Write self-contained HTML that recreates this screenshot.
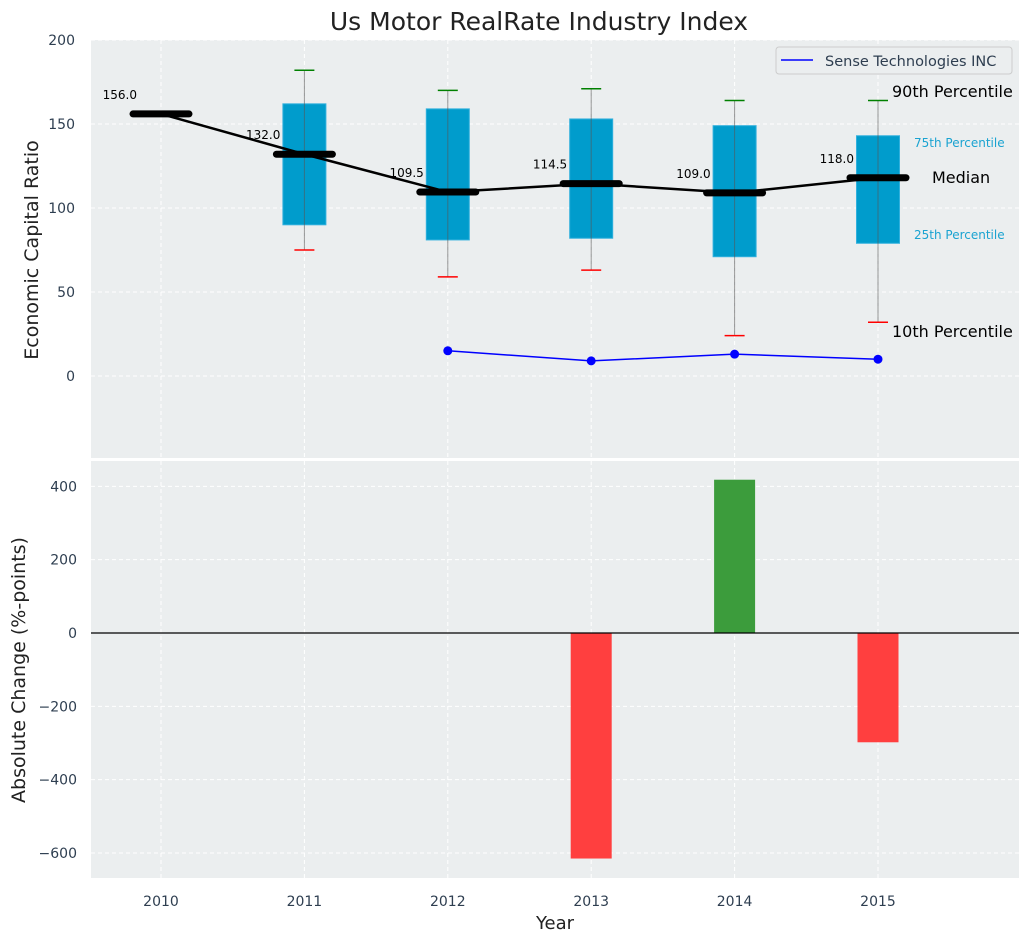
<!DOCTYPE html>
<html><head><meta charset="utf-8"><style>
body{margin:0;background:#fff;font-family:"Liberation Sans","DejaVu Sans",sans-serif}
svg text{font-family:"DejaVu Sans","Liberation Sans",sans-serif}
</style></head><body>
<svg id="c" width="1029" height="942" xmlns="http://www.w3.org/2000/svg"></svg>
<script>
const years=[2010,2011,2012,2013,2014,2015];
const medians=[156,132,109.5,114.5,109,118];
const q1=[null,90,81,82,71,79];
const q3=[null,162,159,153,149,143];
const p10=[null,75,59,63,24,32];
const p90=[null,182,170,171,164,164];
const compYears=[2012,2013,2014,2015];
const compVals=[15,9,13,10];
const changeYears=[2013,2014,2015];
const changeVals=[-615,418,-298];
const topTicks=[0,50,100,150,200];
const botTicks=[-600,-400,-200,0,200,400];

const NS="http://www.w3.org/2000/svg";
const svg=document.getElementById('c');
function el(t,a,p){const e=document.createElementNS(NS,t);for(const k in a)e.setAttribute(k,a[k]);(p||svg).appendChild(e);return e;}
function tx(x,y,s,a){const e=el('text',Object.assign({x:x,y:y},a));e.textContent=s;return e;}
const X=v=>161+(v-2010)*143.4;
const Yt=v=>376-v*1.68;
const Yb=v=>633-v*0.3667;
const L=91,R=1019;

let g=el('rect',{x:L,y:40,width:R-L,height:418,fill:'#ebeeef'});

let g2=el('rect',{x:L,y:461,width:R-L,height:417,fill:'#ebeeef'});

years.forEach(y=>{el('line',{x1:X(y),x2:X(y),y1:40,y2:458,stroke:'#fff','stroke-dasharray':'4,3'});el('line',{x1:X(y),x2:X(y),y1:461,y2:878,stroke:'#fff','stroke-dasharray':'4,3'});
 const t=tx(X(y),906,String(y),{'text-anchor':'middle','font-size':14,fill:'#2e3e50'});
 });
topTicks.forEach(v=>{el('line',{x1:L,x2:R,y1:Yt(v),y2:Yt(v),stroke:'#fff','stroke-dasharray':'4,3'});
 const t=tx(75,Yt(v)+5,String(v),{'text-anchor':'end','font-size':14,fill:'#2e3e50'});
 });
botTicks.forEach(v=>{el('line',{x1:L,x2:R,y1:Yb(v),y2:Yb(v),stroke:'#fff','stroke-dasharray':'4,3'});
 const t=tx(77,Yb(v)+5,(v<0?'\u2212'+(-v):String(v)),{'text-anchor':'end','font-size':14,fill:'#2e3e50'});
 });

const bw=43*0.5;
years.forEach((y,i)=>{
 if(q1[i]==null)return;
 const b=el('rect',{x:X(y)-bw,y:Yt(q3[i]),width:bw*2,height:Yt(q1[i])-Yt(q3[i]),fill:'#009ccc',stroke:'#30b0dd','stroke-width':1});
 
 el('line',{x1:X(y),x2:X(y),y1:Yt(p90[i]),y2:Yt(p10[i]),stroke:'#555','stroke-opacity':0.6,'stroke-width':1});
 const a=el('line',{x1:X(y)-10,x2:X(y)+10,y1:Yt(p90[i]),y2:Yt(p90[i]),stroke:'green','stroke-width':1.5});
 
 const c=el('line',{x1:X(y)-10,x2:X(y)+10,y1:Yt(p10[i]),y2:Yt(p10[i]),stroke:'red','stroke-width':1.5});
 
});
const ml=el('polyline',{points:years.map((y,i)=>X(y)+','+Yt(medians[i])).join(' '),fill:'none',stroke:'#000','stroke-width':2.5});

years.forEach((y,i)=>{
 const m=el('line',{x1:X(y)-28,x2:X(y)+28,y1:Yt(medians[i]),y2:Yt(medians[i]),stroke:'#000','stroke-width':7,'stroke-linecap':'round'});
 
 const t=tx(X(y)-24,Yt(medians[i])-15,medians[i].toFixed(1),{'text-anchor':'end','font-size':12,fill:'#000'});
 
});
const cl=el('polyline',{points:compYears.map((y,i)=>X(y)+','+Yt(compVals[i])).join(' '),fill:'none',stroke:'blue','stroke-width':1.5});

compYears.forEach((y,i)=>{const p=el('circle',{cx:X(y),cy:Yt(compVals[i]),r:4.5,fill:'blue'});
 });
const ann=[[892,97,'90th Percentile',16,'#000'],[914,147,'75th Percentile',12,'#1aa3d1'],[932,183,'Median',16,'#000'],[914,239,'25th Percentile',12,'#1aa3d1'],[892,337,'10th Percentile',16,'#000']];
ann.forEach(a=>{const t=tx(a[0],a[1],a[2],{'font-size':a[3],fill:a[4]});});
const lg=el('g',{});
el('rect',{x:776,y:47,width:236,height:27,rx:3,fill:'#ebeeef',stroke:'#ccc'},lg);
el('line',{x1:781,x2:813,y1:60,y2:60,stroke:'blue','stroke-width':1.5},lg);
tx(825,66,'Sense Technologies INC',{'font-size':14.5,fill:'#2e3e50'},lg);

const bbw=41;
changeYears.forEach((y,i)=>{const v=changeVals[i];
 const r=el('rect',{x:X(y)-bbw/2,y:Math.min(Yb(v),Yb(0)),width:bbw,height:Math.abs(Yb(v)-Yb(0)),fill:v>=0?'#3c9c3c':'#ff3f3f'});
 });
el('line',{x1:L,x2:R,y1:Yb(0),y2:Yb(0),stroke:'#000','stroke-width':1.2});

let t=tx(539,30,'Us Motor RealRate Industry Index',{'text-anchor':'middle','font-size':25,fill:'#222'});
t=tx(555,929,'Year',{'text-anchor':'middle','font-size':18,fill:'#222'});
t=tx(38,250,'Economic Capital Ratio',{'text-anchor':'middle','font-size':19,fill:'#222',transform:'rotate(-90 38 250)'});
t=tx(25,670,'Absolute Change (%-points)',{'text-anchor':'middle','font-size':19,fill:'#222',transform:'rotate(-90 25 670)'});
</script>
</body></html>
